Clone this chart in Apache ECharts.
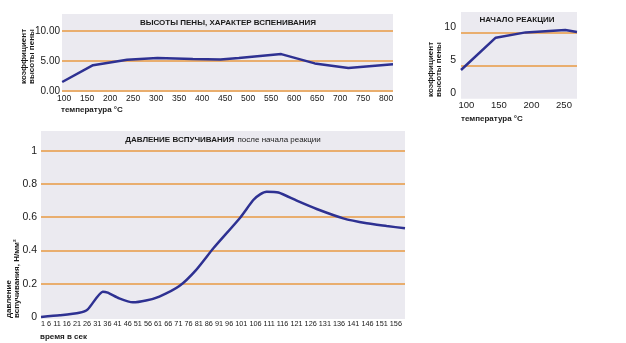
<!DOCTYPE html>
<html>
<head>
<meta charset="utf-8">
<script src="https://cdn.jsdelivr.net/npm/echarts@6/dist/echarts.min.js"></script>
<style>
html,body{margin:0;padding:0;background:#fff;}
#c{width:626px;height:343px;}
</style>
</head>
<body>
<div id="c"></div>
<script>
// ---- Chart 1: высоты пены, характер вспенивания ----
const tempFoam = [96, 163, 237, 303, 380, 440, 480, 572, 645, 718, 815];
const foamHeight = [1.5, 4.3, 5.2, 5.5, 5.35, 5.25, 5.5, 6.15, 4.6, 3.85, 4.45];
const tempFoamTicks = [100, 150, 200, 250, 300, 350, 400, 450, 500, 550, 600, 650, 700, 750, 800];
const foamYTicks = [0, 5, 10];

// ---- Chart 2: начало реакции ----
const tempStart = [91.6, 145, 191, 252, 270];
const startHeight = [4.35, 9.25, 10.05, 10.4, 10.1];
const tempStartTicks = [100, 150, 200, 250];
const startYLabels = [0, 5, 10];
const startYLines = [5, 10];

// ---- Chart 3: давление вспучивания ----
const timeSec = [1, 9, 17.3, 20.9, 27.3, 29.4, 34.3, 40.1, 45.7, 51.4, 59.9, 67.0, 74.4, 85.8, 91.4, 94.3, 97.1, 102.1, 109.9, 118.4, 129.7, 139.7, 148.2, 156];
const pressure = [0.0, 0.01, 0.025, 0.046, 0.152, 0.146, 0.112, 0.088, 0.099, 0.123, 0.186, 0.282, 0.413, 0.597, 0.703, 0.737, 0.753, 0.748, 0.699, 0.649, 0.593, 0.563, 0.547, 0.533];
const timeTickLabels = ['1','6','11','16','21','26','31','36','41','46','51','56','61','66','71','76','81','86','91','96','101','106','111','116','121','126','131','136','141','146','151','156'];
const pressYLabels = [0, 0.2, 0.4, 0.6, 0.8, 1];
const pressYLines = [0.2, 0.4, 0.6, 0.8, 1];

const BG = '#ebeaf0';
const ORANGE = '#e9ae6e';
const NAVY = '#2e3192';
const TXT = '#1a1a1a';
const SANS = '"Liberation Sans", Arial, sans-serif';

const chart = echarts.init(document.getElementById('c'), null, {renderer: 'canvas'});

function gridBox(left, top, width, height) {
  return {left, top, width, height, show: true, backgroundColor: BG, borderWidth: 0, containLabel: false};
}

const option = {
  animation: false,
  backgroundColor: '#ffffff',
  grid: [
    gridBox(62, 14, 331, 77),
    gridBox(461, 12, 116, 86.7),
    gridBox(41, 131, 364, 188)
  ],
  xAxis: [
    {
      type: 'value', gridIndex: 0, min: 95.6, max: 815,
      axisLine: {show: false}, axisTick: {show: false, customValues: tempFoamTicks}, splitLine: {show: false},
      axisLabel: {customValues: tempFoamTicks, margin: 3, color: TXT, fontFamily: SANS, fontSize: 8.5}
    },
    {
      type: 'value', gridIndex: 1, min: 91.6, max: 270,
      axisLine: {show: false}, axisTick: {show: false, customValues: tempStartTicks}, splitLine: {show: false},
      axisLabel: {customValues: tempStartTicks, margin: 2, color: TXT, fontFamily: SANS, fontSize: 9.5}
    },
    {
      type: 'value', gridIndex: 2, min: 1, max: 156,
      axisLine: {show: false}, axisTick: {show: false, customValues: [1]}, splitLine: {show: false},
      axisLabel: {
        customValues: [1], margin: 1, color: TXT, fontFamily: SANS, fontSize: 7.3, align: 'left',
        formatter: function () { return timeTickLabels.join(' '); }
      }
    }
  ],
  yAxis: [
    {
      type: 'value', gridIndex: 0, min: 0, max: 12.83,
      axisLine: {show: false}, axisTick: {show: false, customValues: foamYTicks},
      splitLine: {show: true, lineStyle: {color: ORANGE, width: 2}},
      axisLabel: {customValues: foamYTicks, margin: 2, color: TXT, fontFamily: SANS, fontSize: 10,
        formatter: function (v) { return v.toFixed(2); }}
    },
    {
      type: 'value', gridIndex: 1, min: 0, max: 13.14,
      axisLine: {show: false}, axisTick: {show: false, customValues: startYLines},
      splitLine: {show: true, lineStyle: {color: ORANGE, width: 2}},
      axisLabel: {customValues: startYLabels, margin: 5, color: TXT, fontFamily: SANS, fontSize: 10.5, verticalAlign: 'bottom'}
    },
    {
      type: 'value', gridIndex: 2, min: -0.012, max: 1.118,
      axisLine: {show: false}, axisTick: {show: false, customValues: pressYLines},
      splitLine: {show: true, lineStyle: {color: ORANGE, width: 2}},
      axisLabel: {customValues: pressYLabels, margin: 4, color: TXT, fontFamily: SANS, fontSize: 10.5,
        formatter: function (v) { return String(v); }}
    }
  ],
  series: [
    {
      type: 'line', xAxisIndex: 0, yAxisIndex: 0, showSymbol: false,
      data: tempFoam.map((t, i) => [t, foamHeight[i]]),
      lineStyle: {color: NAVY, width: 2.5}, itemStyle: {color: NAVY}
    },
    {
      type: 'line', xAxisIndex: 1, yAxisIndex: 1, showSymbol: false,
      data: tempStart.map((t, i) => [t, startHeight[i]]),
      lineStyle: {color: NAVY, width: 2.5}, itemStyle: {color: NAVY}
    },
    {
      type: 'line', xAxisIndex: 2, yAxisIndex: 2, showSymbol: false, smooth: 0.2,
      data: timeSec.map((t, i) => [t, pressure[i]]),
      lineStyle: {color: NAVY, width: 2.5}, itemStyle: {color: NAVY}
    }
  ],
  graphic: [
    // chart titles
    {type: 'text', x: 228, y: 23, silent: true, style: {text: 'ВЫСОТЫ ПЕНЫ, ХАРАКТЕР ВСПЕНИВАНИЯ', font: 'bold 8px ' + SANS, fill: TXT, align: 'center', verticalAlign: 'middle'}},
    {type: 'text', x: 517, y: 20, silent: true, style: {text: 'НАЧАЛО РЕАКЦИИ', font: 'bold 8px ' + SANS, fill: TXT, align: 'center', verticalAlign: 'middle'}},
    {type: 'text', x: 223, y: 139.5, silent: true, style: {
      text: '{b|ДАВЛЕНИЕ ВСПУЧИВАНИЯ} {r|после начала реакции}', align: 'center', verticalAlign: 'middle',
      rich: {b: {font: 'bold 8px ' + SANS, fill: TXT}, r: {font: '8px ' + SANS, fill: TXT}}
    }},
    // x axis names
    {type: 'text', x: 61, y: 110, silent: true, style: {text: 'температура °C', font: 'bold 8px ' + SANS, fill: TXT, align: 'left', verticalAlign: 'middle'}},
    {type: 'text', x: 461, y: 119, silent: true, style: {text: 'температура °C', font: 'bold 8px ' + SANS, fill: TXT, align: 'left', verticalAlign: 'middle'}},
    {type: 'text', x: 40, y: 337, silent: true, style: {text: 'время в сек', font: 'bold 8px ' + SANS, fill: TXT, align: 'left', verticalAlign: 'middle'}},
    // y axis names (rotated)
    {type: 'text', x: 20, y: 84, rotation: Math.PI / 2, silent: true, style: {text: 'коэффициент\nвысоты пены', font: 'bold 8px ' + SANS, lineHeight: 8, fill: TXT, align: 'left', verticalAlign: 'top'}},
    {type: 'text', x: 427, y: 97, rotation: Math.PI / 2, silent: true, style: {text: 'коэффициент\nвысоты пены', font: 'bold 8px ' + SANS, lineHeight: 8, fill: TXT, align: 'left', verticalAlign: 'top'}},
    {type: 'text', x: 5, y: 318, rotation: Math.PI / 2, silent: true, style: {text: 'давление\nвспучивания, Н/мм²', font: 'bold 8px ' + SANS, lineHeight: 8, fill: TXT, align: 'left', verticalAlign: 'top'}}
  ]
};
chart.setOption(option);
</script>
</body>
</html>
